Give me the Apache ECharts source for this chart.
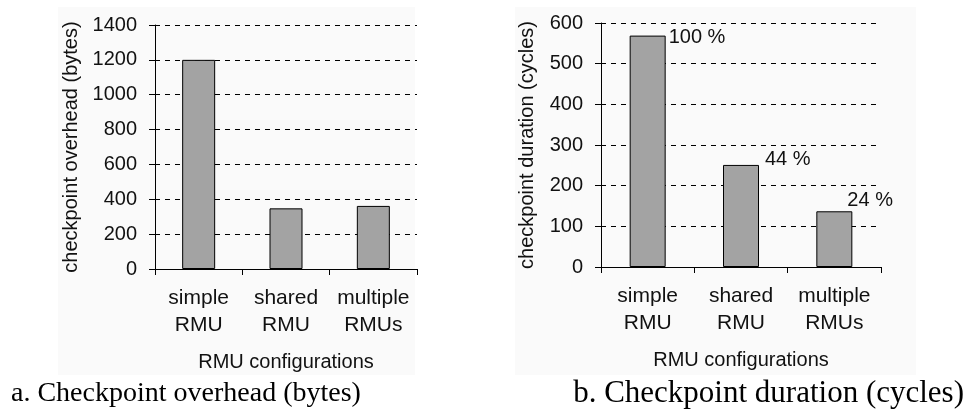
<!DOCTYPE html>
<html>
<head>
<meta charset="utf-8">
<script src="https://cdn.jsdelivr.net/npm/echarts@6/dist/echarts.min.js"></script>
<style>
html,body{margin:0;padding:0;background:#fff;}
#c{width:966px;height:409px;}
</style>
</head>
<body>
<div id="c"></div>
<script>
var categories = ['simple\nRMU', 'shared\nRMU', 'multiple\nRMUs'];
var overheadBytes = [1200, 348, 362];
var durationCycles = [569, 251, 137];
var durationLabels = ['100 %', '44 %', '24 %'];
var overheadTicks = {min: 0, max: 1400, interval: 200};
var durationTicks = {min: 0, max: 600, interval: 100};

var FONT = '"Liberation Sans", Arial, sans-serif';
var SERIF = '"Liberation Serif", "Times New Roman", serif';
var chart = echarts.init(document.getElementById('c'), null, {renderer: 'canvas'});

function yAxis(idx, t, name, gap) {
  return {
    type: 'value', gridIndex: idx, min: t.min, max: t.max, interval: t.interval,
    name: name, nameLocation: 'middle', nameGap: gap, nameRotate: 90,
    nameTextStyle: {fontFamily: FONT, fontSize: 20, color: '#111'},
    axisLine: {show: true, lineStyle: {color: '#000', width: 1}},
    axisTick: {show: true, length: 6, lineStyle: {color: '#000'}},
    axisLabel: {fontFamily: FONT, fontSize: 20, color: '#111', margin: 18,
      formatter: function (v) { return String(v); }},
    splitLine: {show: true, lineStyle: {color: '#000', type: [5, 5], width: 1}}
  };
}
function xAxis(idx) {
  return {
    type: 'category', gridIndex: idx, data: categories,
    name: 'RMU configurations', nameLocation: 'middle', nameGap: 83,
    nameTextStyle: {fontFamily: FONT, fontSize: 20, color: '#111'},
    axisLine: {show: true, lineStyle: {color: '#000', width: 1}},
    axisTick: {show: true, length: 6, lineStyle: {color: '#000'}},
    axisLabel: {fontFamily: FONT, fontSize: 21, color: '#111', margin: 16, lineHeight: 27, interval: 0}
  };
}
var labelPos = [[39, 2], [42, -5], [31, -11]];

chart.setOption({
  animation: false,
  backgroundColor: '#fff',
  graphic: [
    {type: 'rect', z: -10, shape: {x: 58, y: 7, width: 357, height: 368}, style: {fill: '#fafafa'}},
    {type: 'rect', z: -10, shape: {x: 515, y: 7, width: 401, height: 368}, style: {fill: '#fafafa'}},
    {type: 'text', left: 11, top: 380, style: {text: 'a. Checkpoint overhead (bytes)', fontFamily: SERIF, fontSize: 28, fill: '#000'}},
    {type: 'text', right: 2, top: 378, style: {text: 'b. Checkpoint duration (cycles)', fontFamily: SERIF, fontSize: 31, fill: '#000'}}
  ],
  grid: [
    {left: 155, right: 549, top: 25, bottom: 140},
    {left: 601, right: 85, top: 23, bottom: 142}
  ],
  xAxis: [xAxis(0), xAxis(1)],
  yAxis: [yAxis(0, overheadTicks, 'checkpoint overhead (bytes)', 74), yAxis(1, durationTicks, 'checkpoint duration (cycles)', 64)],
  series: [
    {type: 'bar', xAxisIndex: 0, yAxisIndex: 0, data: overheadBytes, barWidth: 33,
     itemStyle: {color: '#a3a3a3', borderColor: '#000', borderWidth: 1}},
    {type: 'bar', xAxisIndex: 1, yAxisIndex: 1, barWidth: 36,
     itemStyle: {color: '#a3a3a3', borderColor: '#000', borderWidth: 1},
     data: durationCycles.map(function (v, i) {
       return {value: v, label: {show: true, position: labelPos[i], formatter: durationLabels[i],
         align: 'left', verticalAlign: 'middle', fontFamily: FONT, fontSize: 20, color: '#111'}};
     })}
  ]
});
</script>
</body>
</html>
